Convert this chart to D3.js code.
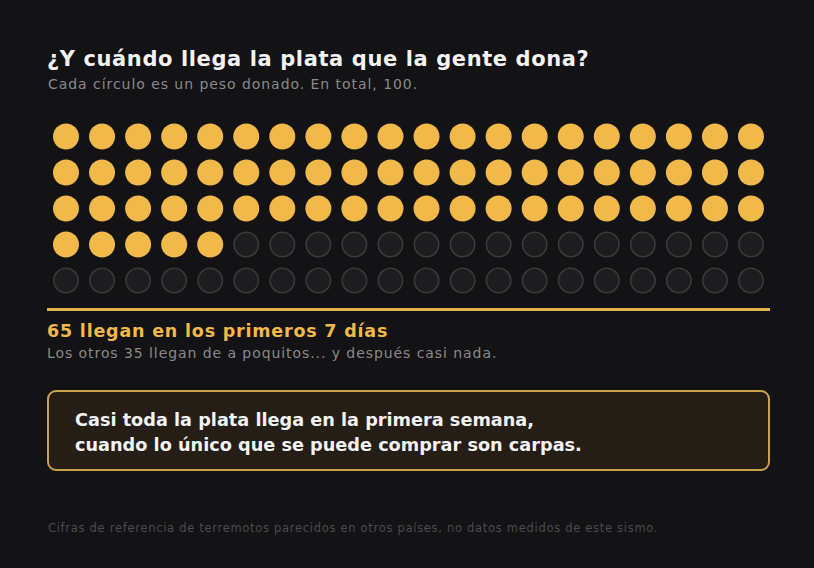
<!DOCTYPE html>
<html lang="es">
<head>
    <meta charset="UTF-8">
    <title>¿Y cuándo llega la plata que la gente dona?</title>
    <script src="https://cdnjs.cloudflare.com/ajax/libs/d3/7.8.5/d3.min.js"></script>
    <style>
        html, body { margin: 0; padding: 0; background: #131214; }
        svg { display: block; font-family: "DejaVu Sans", "Noto Sans", sans-serif; }
    </style>
</head>
<body>
    <svg id="chart" width="814" height="568"></svg>

    <script>
    // Data: 100 pesos donados, split by when they arrive
    const groups = ["primeros 7 días", "después"];
    const groupValues = [65, 35];
    const columns = 20;
    const rows = 5;

    const title = "¿Y cuándo llega la plata que la gente dona?";
    const subtitle = "Cada círculo es un peso donado. En total, 100.";
    const highlight = "65 llegan en los primeros 7 días";
    const highlightSub = "Los otros 35 llegan de a poquitos... y después casi nada.";
    const boxLines = ["Casi toda la plata llega en la primera semana,",
                      "cuando lo único que se puede comprar son carpas."];
    const footnote = "Cifras de referencia de terremotos parecidos en otros países, no datos medidos de este sismo.";

    const gold = "#f0b94a";
    const svg = d3.select("#chart");

    // Title block
    svg.append("text")
        .attr("x", 47).attr("y", 66)
        .attr("fill", "#f2f2f2")
        .attr("font-size", 21).attr("font-weight", 700)
        .attr("letter-spacing", 0.6)
        .text(title);
    svg.append("text")
        .attr("x", 48).attr("y", 88.5)
        .attr("fill", "#8a8a8a")
        .attr("font-size", 14)
        .attr("letter-spacing", 0.95)
        .text(subtitle);

    // One entry per dot, built from the group values
    const dots = [];
    groupValues.forEach((v, g) => {
        for (let i = 0; i < v; i++) dots.push({ group: groups[g], filled: g === 0 });
    });
    dots.forEach((d, i) => { d.col = i % columns; d.row = Math.floor(i / columns); });

    const x = d3.scalePoint()
        .domain(d3.range(columns))
        .range([66, 751]);
    const y = d3.scalePoint()
        .domain(d3.range(rows))
        .range([136.5, 280.5]);

    svg.append("g")
        .selectAll("circle")
        .data(dots)
        .join("circle")
        .attr("cx", d => x(d.col))
        .attr("cy", d => y(d.row))
        .attr("r", d => d.filled ? 13 : 12.2)
        .attr("fill", d => d.filled ? gold : "#1d1c1e")
        .attr("stroke", d => d.filled ? "none" : "#3b3a3b")
        .attr("stroke-width", 1.6);

    // Divider under the grid
    svg.append("line")
        .attr("x1", 47).attr("x2", 770)
        .attr("y1", 309.5).attr("y2", 309.5)
        .attr("stroke", "#e2b24c")
        .attr("stroke-width", 3);

    svg.append("text")
        .attr("x", 47).attr("y", 337)
        .attr("fill", gold)
        .attr("font-size", 17.5).attr("font-weight", 700)
        .attr("letter-spacing", 0.8)
        .text(highlight);
    svg.append("text")
        .attr("x", 47).attr("y", 357.5)
        .attr("fill", "#8a8a8a")
        .attr("font-size", 14)
        .attr("letter-spacing", 0.93)
        .text(highlightSub);

    // Callout box
    svg.append("rect")
        .attr("x", 48).attr("y", 391)
        .attr("width", 721).attr("height", 79)
        .attr("rx", 8)
        .attr("fill", "#241e16")
        .attr("stroke", "#c9a24e")
        .attr("stroke-width", 2);
    svg.append("g")
        .selectAll("text")
        .data(boxLines)
        .join("text")
        .attr("x", 75)
        .attr("y", (d, i) => 426 + i * 24.5)
        .attr("fill", "#f2f2f2")
        .attr("font-size", 17.7).attr("font-weight", 700)
        .text(d => d);

    svg.append("text")
        .attr("x", 48).attr("y", 532)
        .attr("fill", "#4d4c4f")
        .attr("font-size", 11.5)
        .attr("letter-spacing", 0.7)
        .text(footnote);
    </script>
</body>
</html>
